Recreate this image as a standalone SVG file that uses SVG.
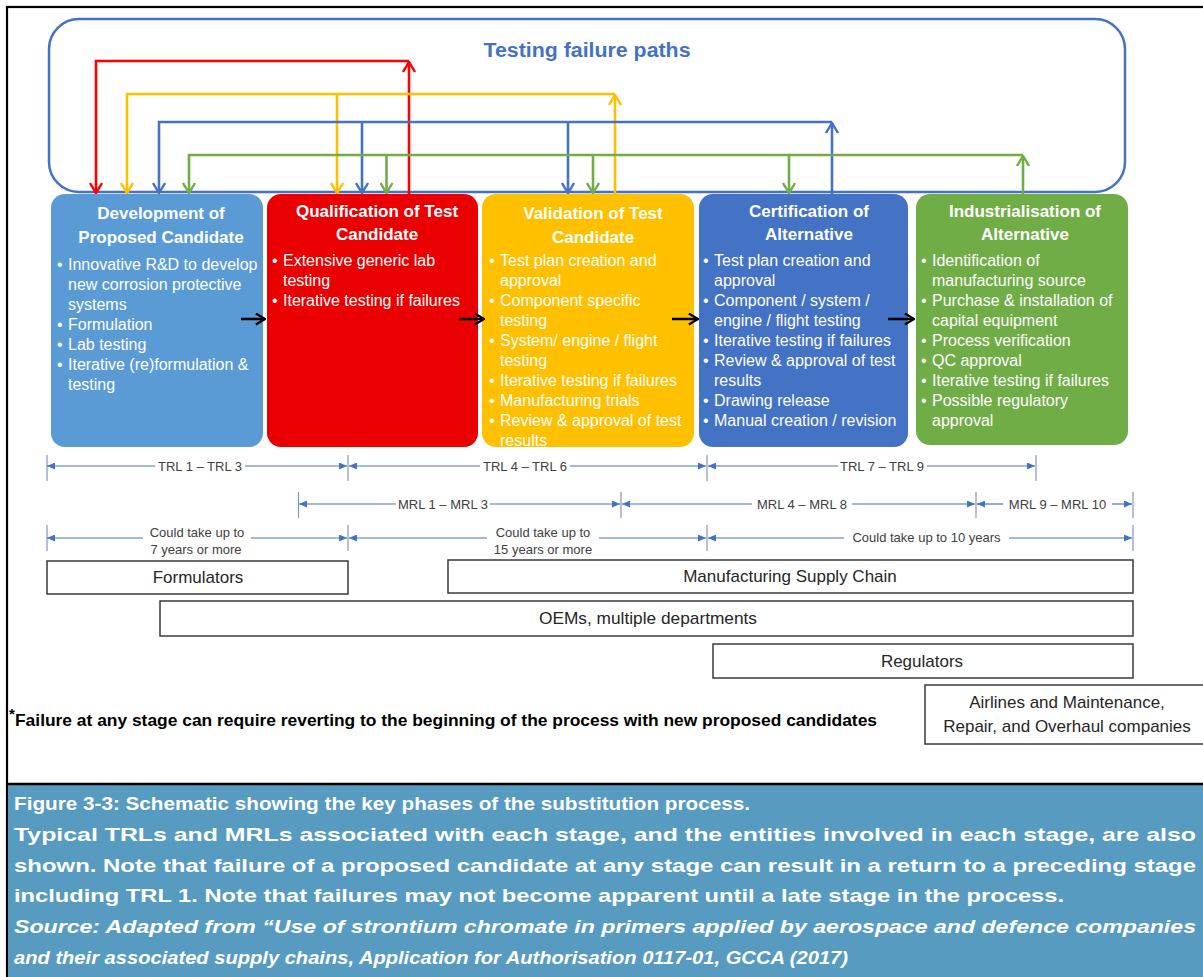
<svg xmlns="http://www.w3.org/2000/svg" width="1203" height="977" viewBox="0 0 1203 977">
<style>
.title{font-family:"Liberation Sans",Arial,sans-serif;font-weight:bold;font-size:17px;fill:#fff;text-anchor:middle}
.bul{font-family:"Liberation Sans",Arial,sans-serif;font-size:16px;fill:#fff}
.span{font-family:"Liberation Sans",Arial,sans-serif;font-size:13px;fill:#404040;text-anchor:middle}
.ent{font-family:"Liberation Sans",Arial,sans-serif;font-size:17px;fill:#262626;text-anchor:middle}
.ebox{fill:#fff;stroke:#3a3a3a;stroke-width:1.5}
.cap{font-family:"Liberation Sans",Arial,sans-serif;font-weight:bold;font-size:19px;fill:#fff}
.dim{fill:none;stroke:#4472C4;stroke-width:1.2}
.tick{stroke:#7f95c8;stroke-width:1.2}
.fp{fill:none;stroke-width:2.6}
</style>
<defs>
<marker id="mr" viewBox="0 0 12 14" refX="11" refY="7" markerWidth="12" markerHeight="14" markerUnits="userSpaceOnUse" orient="auto"><path d="M1,1 L11,7 L1,13" fill="none" stroke="#FF0000" stroke-width="2.4"/></marker>
<marker id="my" viewBox="0 0 12 14" refX="11" refY="7" markerWidth="12" markerHeight="14" markerUnits="userSpaceOnUse" orient="auto"><path d="M1,1 L11,7 L1,13" fill="none" stroke="#FFC000" stroke-width="2.4"/></marker>
<marker id="mb" viewBox="0 0 12 14" refX="11" refY="7" markerWidth="12" markerHeight="14" markerUnits="userSpaceOnUse" orient="auto"><path d="M1,1 L11,7 L1,13" fill="none" stroke="#4472C4" stroke-width="2.4"/></marker>
<marker id="mg" viewBox="0 0 12 14" refX="11" refY="7" markerWidth="12" markerHeight="14" markerUnits="userSpaceOnUse" orient="auto"><path d="M1,1 L11,7 L1,13" fill="none" stroke="#70AD47" stroke-width="2.4"/></marker>
<marker id="mk" viewBox="0 0 12 14" refX="11" refY="7" markerWidth="11" markerHeight="13" markerUnits="userSpaceOnUse" orient="auto"><path d="M1,1 L11,7 L1,13" fill="none" stroke="#000" stroke-width="2.4"/></marker>
<marker id="tri" viewBox="0 0 8 7" refX="8" refY="3.5" markerWidth="8" markerHeight="7" markerUnits="userSpaceOnUse" orient="auto"><path d="M0,0 L8,3.5 L0,7 z" fill="#4472C4"/></marker>
</defs>

<rect x="0" y="0" width="1203" height="977" fill="#fff"/>
<!-- frame -->
<rect x="7" y="7" width="1210" height="990" fill="none" stroke="#000" stroke-width="2.2"/>
<g id="caption">
<rect x="8" y="785" width="1200" height="195" fill="#579BC1"/>
<line x1="7" y1="784" x2="1203" y2="784" stroke="#000" stroke-width="2.5"/>
<text class="cap" x="14" y="810" textLength="736" lengthAdjust="spacingAndGlyphs">Figure 3-3: Schematic showing the key phases of the substitution process.</text>
<text class="cap" x="14" y="841" textLength="1182" lengthAdjust="spacingAndGlyphs">Typical TRLs and MRLs associated with each stage, and the entities involved in each stage, are also</text>
<text class="cap" x="14" y="872" textLength="1182" lengthAdjust="spacingAndGlyphs">shown.  Note that failure of a proposed candidate at any stage can result in a return to a preceding stage</text>
<text class="cap" x="14" y="902" textLength="1050" lengthAdjust="spacingAndGlyphs">including TRL 1.  Note that failures may not become apparent until a late stage in the process.</text>
<text class="cap" x="14" y="933" font-style="italic" textLength="1182" lengthAdjust="spacingAndGlyphs">Source: Adapted from “Use of strontium chromate in primers applied by aerospace and defence companies</text>
<text class="cap" x="14" y="964" font-style="italic" textLength="834" lengthAdjust="spacingAndGlyphs">and their associated supply chains, Application for Authorisation 0117-01, GCCA (2017)</text>
</g>

<g id="testing-failure-paths">
<rect x="49" y="19" width="1076" height="173" rx="30" ry="30" fill="none" stroke="#4472C4" stroke-width="2.5"/>
<text x="587" y="57" font-family="Liberation Sans, Arial, sans-serif" font-weight="bold" font-size="20" fill="#4472C4" text-anchor="middle" textLength="207" lengthAdjust="spacingAndGlyphs">Testing failure paths</text>
</g>

<g id="connectors">
<path class="fp" stroke="#FF0000" d="M409,194 V62" marker-end="url(#mr)"/>
<path class="fp" stroke="#FF0000" d="M409,61 H96 V193" marker-end="url(#mr)"/>
<path class="fp" stroke="#FFC000" d="M615,194 V95" marker-end="url(#my)"/>
<path class="fp" stroke="#FFC000" d="M615,94 H127 V193" marker-end="url(#my)"/>
<path class="fp" stroke="#FFC000" d="M337,94 V193" marker-end="url(#my)"/>
<path class="fp" stroke="#4472C4" d="M832,194 V123" marker-end="url(#mb)"/>
<path class="fp" stroke="#4472C4" d="M832,122 H159 V193" marker-end="url(#mb)"/>
<path class="fp" stroke="#4472C4" d="M362,122 V193" marker-end="url(#mb)"/>
<path class="fp" stroke="#4472C4" d="M568,122 V193" marker-end="url(#mb)"/>
<path class="fp" stroke="#70AD47" d="M1023,194 V156" marker-end="url(#mg)"/>
<path class="fp" stroke="#70AD47" d="M1023,155 H189 V193" marker-end="url(#mg)"/>
<path class="fp" stroke="#70AD47" d="M386.5,155 V193" marker-end="url(#mg)"/>
<path class="fp" stroke="#70AD47" d="M593,155 V193" marker-end="url(#mg)"/>
<path class="fp" stroke="#70AD47" d="M789,155 V193" marker-end="url(#mg)"/>
</g>

<g id="node-development">
<rect x="51" y="194" width="212" height="253" rx="14" fill="#5B9BD5"/>
<text class="title" x="161" y="219">Development of</text>
<text class="title" x="161" y="243">Proposed Candidate</text>
<g class="bul">
<text x="57" y="269.5">•</text><text x="68" y="269.5">Innovative R&amp;D to develop</text>
<text x="68" y="289.5">new corrosion protective</text>
<text x="68" y="309.5">systems</text>
<text x="57" y="329.5">•</text><text x="68" y="329.5">Formulation</text>
<text x="57" y="349.5">•</text><text x="68" y="349.5">Lab testing</text>
<text x="57" y="369.5">•</text><text x="68" y="369.5">Iterative (re)formulation &amp;</text>
<text x="68" y="389.5">testing</text>
</g>
</g>

<g id="node-qualification">
<rect x="267" y="194" width="211" height="253" rx="14" fill="#EA0000"/>
<text class="title" x="377" y="217">Qualification of Test</text>
<text class="title" x="377" y="240">Candidate</text>
<g class="bul">
<text x="272" y="266">•</text><text x="283" y="266">Extensive generic lab</text>
<text x="283" y="286">testing</text>
<text x="272" y="306">•</text><text x="283" y="306">Iterative testing if failures</text>
</g>
</g>

<g id="node-validation">
<rect x="482" y="194" width="212" height="253" rx="14" fill="#FFC000"/>
<text class="title" x="593" y="219">Validation of Test</text>
<text class="title" x="593" y="243">Candidate</text>
<g class="bul">
<text x="489" y="266">•</text><text x="500" y="266">Test plan creation and</text>
<text x="500" y="286">approval</text>
<text x="489" y="306">•</text><text x="500" y="306">Component specific</text>
<text x="500" y="326">testing</text>
<text x="489" y="346">•</text><text x="500" y="346">System/ engine / flight</text>
<text x="500" y="366">testing</text>
<text x="489" y="386">•</text><text x="500" y="386">Iterative testing if failures</text>
<text x="489" y="406">•</text><text x="500" y="406">Manufacturing trials</text>
<text x="489" y="426">•</text><text x="500" y="426">Review &amp; approval of test</text>
<text x="500" y="446">results</text>
</g>
</g>

<g id="node-certification">
<rect x="699" y="194" width="209" height="253" rx="14" fill="#4472C4"/>
<text class="title" x="809" y="217">Certification of</text>
<text class="title" x="809" y="240">Alternative</text>
<g class="bul">
<text x="703" y="266">•</text><text x="714" y="266">Test plan creation and</text>
<text x="714" y="286">approval</text>
<text x="703" y="306">•</text><text x="714" y="306">Component / system /</text>
<text x="714" y="326">engine / flight testing</text>
<text x="703" y="346">•</text><text x="714" y="346">Iterative testing if failures</text>
<text x="703" y="366">•</text><text x="714" y="366">Review &amp; approval of test</text>
<text x="714" y="386">results</text>
<text x="703" y="406">•</text><text x="714" y="406">Drawing release</text>
<text x="703" y="426">•</text><text x="714" y="426">Manual creation / revision</text>
</g>
</g>

<g id="node-industrialisation">
<rect x="916" y="194" width="212" height="251" rx="14" fill="#70AD47"/>
<text class="title" x="1025" y="217">Industrialisation of</text>
<text class="title" x="1025" y="240">Alternative</text>
<g class="bul">
<text x="921" y="266">•</text><text x="932" y="266">Identification of</text>
<text x="932" y="286">manufacturing source</text>
<text x="921" y="306">•</text><text x="932" y="306">Purchase &amp; installation of</text>
<text x="932" y="326">capital equipment</text>
<text x="921" y="346">•</text><text x="932" y="346">Process verification</text>
<text x="921" y="366">•</text><text x="932" y="366">QC approval</text>
<text x="921" y="386">•</text><text x="932" y="386">Iterative testing if failures</text>
<text x="921" y="406">•</text><text x="932" y="406">Possible regulatory</text>
<text x="932" y="426">approval</text>
</g>
</g>

<g id="stage-arrows">
<path d="M241,319 H265" fill="none" stroke="#000" stroke-width="2.5" marker-end="url(#mk)"/>
<path d="M459,319 H484" fill="none" stroke="#000" stroke-width="2.5" marker-end="url(#mk)"/>
<path d="M672,319 H698" fill="none" stroke="#000" stroke-width="2.5" marker-end="url(#mk)"/>
<path d="M888,319 H914" fill="none" stroke="#000" stroke-width="2.5" marker-end="url(#mk)"/>
</g>

<g id="trl-row">
<line class="tick" x1="47" y1="455" x2="47" y2="481"/>
<line class="tick" x1="348" y1="455" x2="348" y2="481"/>
<line class="tick" x1="707" y1="455" x2="707" y2="481"/>
<line class="tick" x1="1036" y1="455" x2="1036" y2="481"/>
<path class="dim" d="M155,466 H47" marker-end="url(#tri)"/>
<path class="dim" d="M245,466 H347" marker-end="url(#tri)"/>
<text class="span" x="200" y="470.5">TRL 1 – TRL 3</text>
<path class="dim" d="M480,466 H349" marker-end="url(#tri)"/>
<path class="dim" d="M570,466 H706" marker-end="url(#tri)"/>
<text class="span" x="525" y="470.5">TRL 4 – TRL 6</text>
<path class="dim" d="M838,466 H708" marker-end="url(#tri)"/>
<path class="dim" d="M927,466 H1035" marker-end="url(#tri)"/>
<text class="span" x="882" y="470.5">TRL 7 – TRL 9</text>
</g>

<g id="mrl-row">
<line class="tick" x1="298.5" y1="492" x2="298.5" y2="518"/>
<line class="tick" x1="621" y1="492" x2="621" y2="518"/>
<line class="tick" x1="976" y1="492" x2="976" y2="518"/>
<line class="tick" x1="1133" y1="492" x2="1133" y2="518"/>
<path class="dim" d="M396,504 H299" marker-end="url(#tri)"/>
<path class="dim" d="M490,504 H620" marker-end="url(#tri)"/>
<text class="span" x="443" y="508.5">MRL 1 – MRL 3</text>
<path class="dim" d="M752,504 H622" marker-end="url(#tri)"/>
<path class="dim" d="M852,504 H975" marker-end="url(#tri)"/>
<text class="span" x="802" y="508.5">MRL 4 – MRL 8</text>
<path class="dim" d="M1003,504 H977" marker-end="url(#tri)"/>
<path class="dim" d="M1112,504 H1132" marker-end="url(#tri)"/>
<text class="span" x="1057.5" y="508.5">MRL 9 – MRL 10</text>
</g>

<g id="duration-row">
<line class="tick" x1="47" y1="525" x2="47" y2="551"/>
<line class="tick" x1="348" y1="525" x2="348" y2="551"/>
<line class="tick" x1="707" y1="525" x2="707" y2="551"/>
<line class="tick" x1="1133" y1="525" x2="1133" y2="551"/>
<path class="dim" d="M143,538 H47" marker-end="url(#tri)"/>
<path class="dim" d="M251,538 H347" marker-end="url(#tri)"/>
<text class="span" x="197" y="537">Could take up to</text>
<text class="span" x="196" y="554">7 years or more</text>
<path class="dim" d="M487,538 H349" marker-end="url(#tri)"/>
<path class="dim" d="M599,538 H706" marker-end="url(#tri)"/>
<text class="span" x="543" y="537">Could take up to</text>
<text class="span" x="543" y="554">15 years or more</text>
<path class="dim" d="M844,538 H708" marker-end="url(#tri)"/>
<path class="dim" d="M1009,538 H1132" marker-end="url(#tri)"/>
<text class="span" x="926.5" y="542" font-size="13.5">Could take up to 10 years</text>
</g>

<g id="entity-formulators">
<rect class="ebox" x="47" y="561" width="301" height="33"/>
<text class="ent" x="198" y="583">Formulators</text>
</g>
<g id="entity-manufacturing">
<rect class="ebox" x="448" y="560" width="685" height="33"/>
<text class="ent" x="790" y="582" font-size="17.5">Manufacturing Supply Chain</text>
</g>
<g id="entity-oems">
<rect class="ebox" x="160" y="601" width="973" height="35"/>
<text class="ent" x="648" y="624" textLength="218" lengthAdjust="spacingAndGlyphs">OEMs, multiple departments</text>
</g>
<g id="entity-regulators">
<rect class="ebox" x="713" y="644" width="420" height="34"/>
<text class="ent" x="922" y="667">Regulators</text>
</g>
<g id="entity-airlines">
<rect class="ebox" x="925" y="685" width="305" height="59"/>
<text class="ent" x="1067" y="708" font-size="16.5">Airlines and Maintenance,</text>
<text class="ent" x="1067" y="732" font-size="16.5">Repair, and Overhaul companies</text>
</g>

<g id="footnote">
<text x="9" y="719" font-family="Liberation Sans, Arial, sans-serif" font-weight="bold" font-size="15" fill="#000">*</text>
<text x="15" y="726" font-family="Liberation Sans, Arial, sans-serif" font-weight="bold" font-size="17" fill="#000" textLength="862" lengthAdjust="spacingAndGlyphs">Failure at any stage can require reverting to the beginning of the process with new proposed candidates</text>
</g>
</svg>
